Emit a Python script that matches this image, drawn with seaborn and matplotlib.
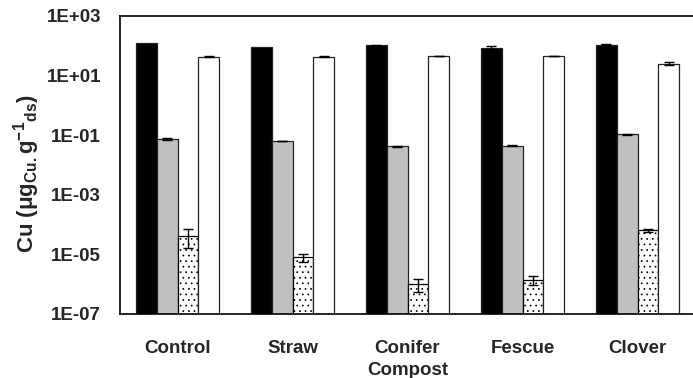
import matplotlib
matplotlib.use("Agg")
import matplotlib.pyplot as plt
import seaborn as sns
import numpy as np
import pandas as pd

categories = ["Control", "Straw", "Conifer", "Fescue", "Clover"]
series = ["S1", "S2", "S3", "S4"]
s1_vals = [122, 94, 105, 87, 109]
s1_err = [0, 0, 3, 10, 4]
s2_vals = [0.077, 0.063, 0.0425, 0.045, 0.107]
s2_err = [0.006, 0.001, 0.001, 0.003, 0.005]
s3_vals = [4.3e-5, 7.9e-6, 1.0e-6, 1.37e-6, 6.4e-5]
s3_err = [2.7e-5, 2.2e-6, 0.45e-6, 0.45e-6, 0.6e-5]
s4_vals = [42.5, 42.5, 45.9, 44.9, 25.4]
s4_err = [1.5, 1.5, 1.2, 0.8, 3.5]
y_ticks = [1e-7, 1e-5, 1e-3, 1e-1, 1e1, 1e3]
y_tick_labels = ["1E-07", "1E-05", "1E-03", "1E-01", "1E+01", "1E+03"]

values = [s1_vals, s2_vals, s3_vals, s4_vals]
errors = [s1_err, s2_err, s3_err, s4_err]
df = pd.DataFrame({
    "cat": [c for s in series for c in categories],
    "series": [s for s in series for c in categories],
    "val": [v for vals in values for v in vals],
})

sns.set_style("white")
plt.rcParams["font.family"] = ["Liberation Sans", "DejaVu Sans"]
plt.rcParams["font.weight"] = "bold"
plt.rcParams["mathtext.fontset"] = "custom"
plt.rcParams["mathtext.rm"] = "Liberation Sans:bold"
plt.rcParams["mathtext.it"] = "Liberation Sans:bold"
plt.rcParams["mathtext.bf"] = "Liberation Sans:bold"
plt.rcParams["hatch.linewidth"] = 0.5

fig = plt.figure(figsize=(6.93, 3.78), dpi=100)
ax = fig.add_axes([120 / 693, 64 / 378, 575 / 693, 298 / 378])

palette = {"S1": "#000000", "S2": "#c0c0c0", "S3": "#ffffff", "S4": "#ffffff"}
sns.barplot(data=df, x="cat", y="val", hue="series", hue_order=series,
            order=categories, palette=palette, errorbar=None, width=0.73,
            edgecolor="#222222", linewidth=0.9, legend=False, ax=ax, log_scale=(False, True))

bar_containers = list(ax.containers)
for i, cont in enumerate(bar_containers):
    for j, p in enumerate(cont.patches):
        if i == 2:
            p.set_hatch("...")
            p.set_edgecolor("black")
        xc = p.get_x() + p.get_width() / 2
        if errors[i][j] > 0:
            ax.errorbar(xc, values[i][j], yerr=errors[i][j], fmt="none",
                        ecolor="black", elinewidth=1, capsize=3.5, capthick=1, zorder=5)

ax.set_yscale("log")
ax.set_ylim(1e-7, 1e3)
ax.set_yticks(y_ticks)
ax.set_yticklabels(y_tick_labels)
ax.yaxis.set_minor_locator(matplotlib.ticker.NullLocator())
ax.tick_params(axis="y", which="major", direction="in", length=6, width=1,
               color="#666666", pad=13.5, labelsize=13.5)

ax.set_xlim(-0.5, 4.5)
ax.set_xticks(range(len(categories)))
ax.set_xticklabels(categories)
ax.set_xticks(np.arange(-0.5, 4.5, 1.0), minor=True)
ax.tick_params(axis="x", which="major", length=0, pad=18.5, labelsize=13.5)
ax.tick_params(axis="x", which="minor", direction="out", length=5, width=1, color="#666666")

for side in ["left", "bottom", "top"]:
    ax.spines[side].set_visible(True)
    ax.spines[side].set_color("black")
    ax.spines[side].set_linewidth(1.2)
ax.spines["right"].set_visible(False)

ax.set_xlabel("Compost", fontsize=13.5, fontweight="bold", labelpad=3.5)
ax.set_ylabel(r"Cu (μg$_{\mathrm{Cu.}}$g$^{\mathrm{-1}}$$_{\mathrm{ds}}$)", fontsize=16, fontweight="bold")
ax.yaxis.set_label_coords(-0.136, 0.47)

fig.savefig("out.png", dpi=100)
